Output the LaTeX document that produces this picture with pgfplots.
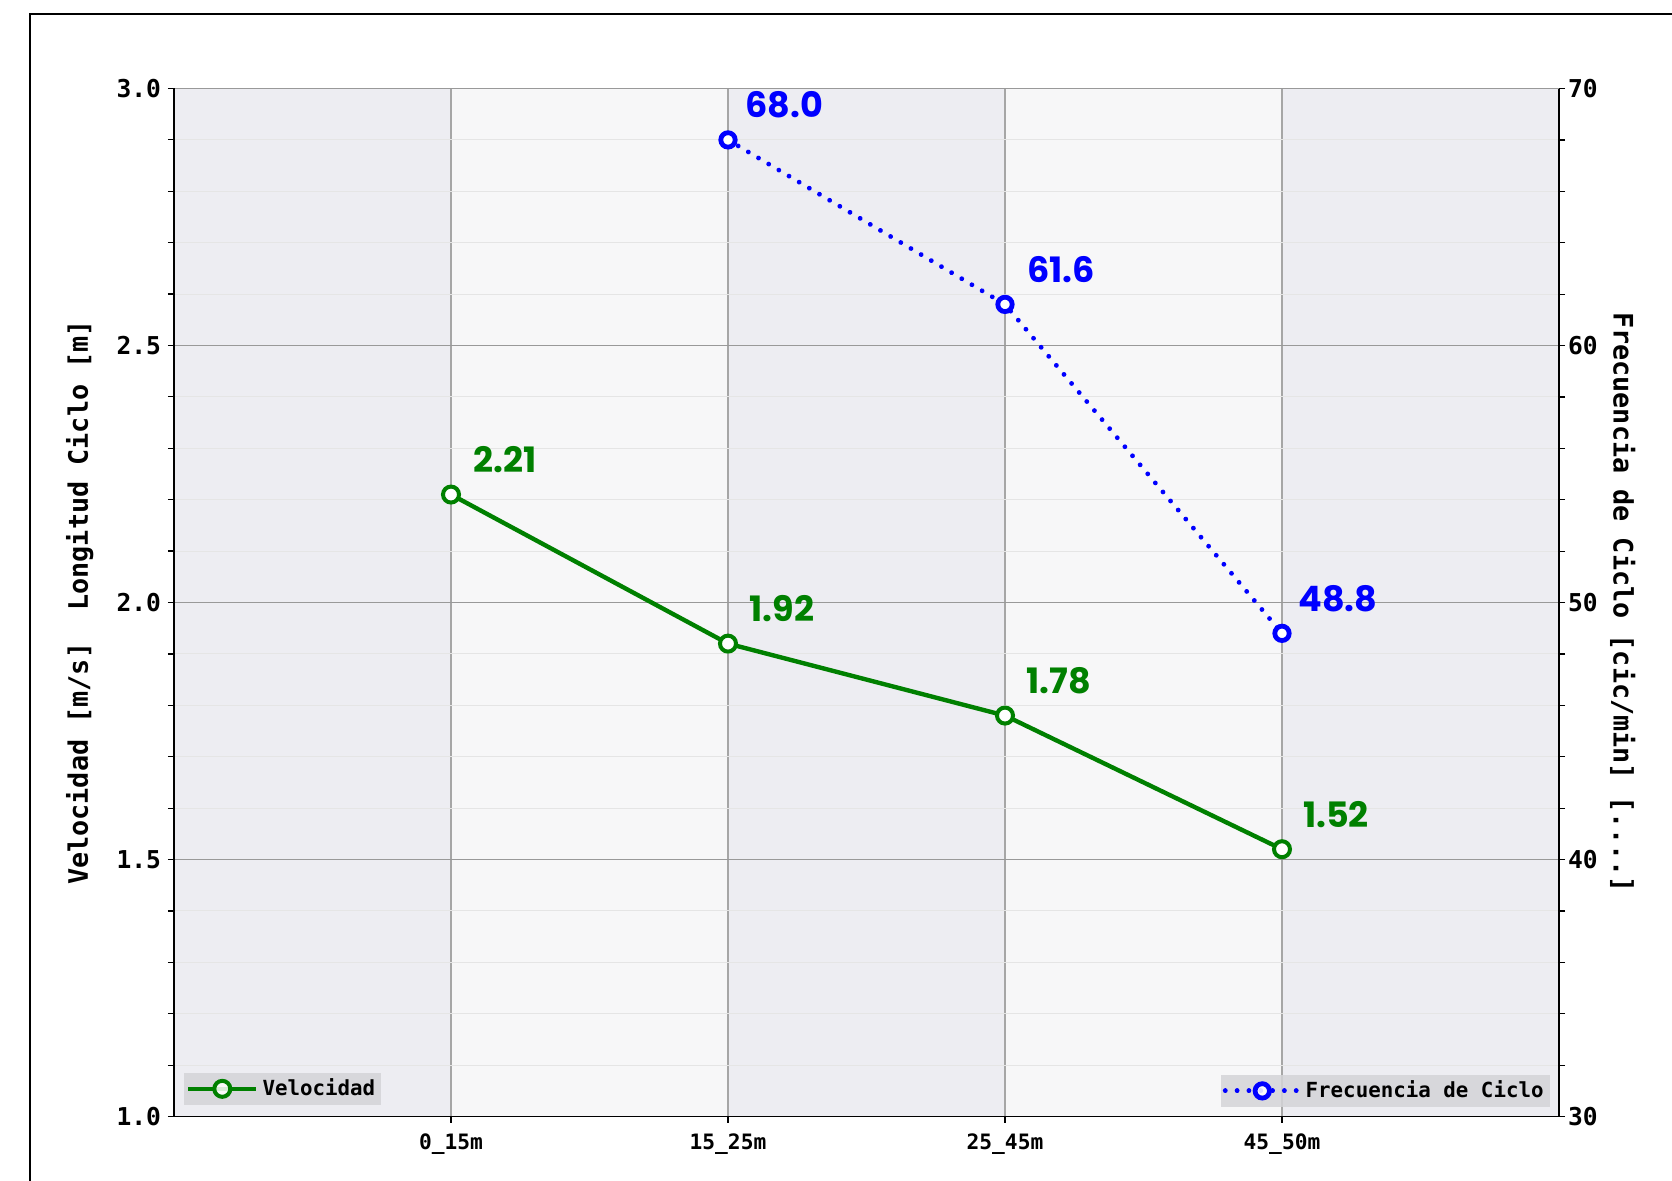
\documentclass[border=0pt]{standalone}
\usepackage{pgfplots}
\pgfplotsset{compat=1.18}
\usepackage{fontspec}
\setmainfont{DejaVu Sans}
\newfontfamily\mono{DejaVu Sans Mono}
\newfontfamily\lab{Poppins}
\definecolor{bandgray}{RGB}{237,237,242}
\definecolor{bandwhite}{RGB}{247,247,248}
\definecolor{mgreen}{RGB}{0,128,0}
\definecolor{mblue}{RGB}{0,0,255}
\definecolor{leggray}{RGB}{212,212,216}

\pgfplotsset{
  common/.style={
    scale only axis, width=692.5pt, height=514pt,
    at={(87pt,31.75pt)}, anchor=south west,
    xmin=-1, xmax=4,
    tick align=outside, major tick length=3pt, minor tick length=3pt,
    tick style={black, line width=0.6pt},
    axis line style={black, line width=0.9pt, -},
    /pgf/number format/assume math mode=true,
    legend cell align=left,
  },
}

\begin{document}
\begin{tikzpicture}
\path[use as bounding box] (0,0) rectangle (836pt,590pt);
\draw[line width=1.3pt] (15pt,-2pt) -- (15pt,583pt) -- (840pt,583pt);

% background bands
\begin{axis}[common, ymin=1, ymax=3, axis lines=none, ticks=none,
  axis background/.style={fill=bandgray}]
\addplot[fill=bandwhite, draw=none, forget plot] coordinates {(0,1) (1,1) (1,3) (0,3)} -- cycle;
\addplot[fill=bandwhite, draw=none, forget plot] coordinates {(2,1) (3,1) (3,3) (2,3)} -- cycle;
\end{axis}

\begin{axis}[common,
  ymin=1, ymax=3,
  xtick={0,1,2,3}, xticklabels={0\_15m,15\_25m,25\_45m,45\_50m},
  ytick={1,1.5,2,2.5,3}, yticklabels={1.0,1.5,2.0,2.5,3.0},
  minor y tick num=4,
  axis x line*=bottom, axis y line*=left,
  xmajorgrids, ymajorgrids, yminorgrids,
  major grid style={black!40, line width=0.6pt},
  x grid style={black!35, line width=0.6pt},
  minor grid style={black!10, line width=0.5pt},
  xticklabel style={font=\mono\bfseries\fontsize{10.6}{12}\selectfont, yshift=-2pt},
  yticklabel style={font=\mono\bfseries\fontsize{12.3}{14}\selectfont},
  ylabel={Velocidad [m/s]~~Longitud Ciclo [m]},
  every axis y label/.style={at={(axis description cs:-0.068,0.5)}, rotate=90, anchor=center,
    font=\mono\bfseries\fontsize{13.4}{15}\selectfont},
  legend style={at={(axis description cs:0.007,0.011)}, anchor=south west,
    fill=leggray, fill opacity=0.85, text opacity=1, draw=none,
    font=\mono\bfseries\fontsize{10.4}{12}\selectfont, inner sep=1pt},
  legend image code/.code={\draw[mark repeat=2,mark phase=2,#1] plot coordinates {(0pt,0pt) (17pt,0pt) (34pt,0pt)};},
]
\addplot[mgreen, line width=2.2pt, mark=*, mark size=4pt,
  mark options={solid, fill=white, draw=mgreen, line width=2pt},
  point meta=y,
  nodes near coords={\pgfmathprintnumber[fixed,fixed zerofill,precision=2,assume math mode=true]{\pgfplotspointmeta}},
  nodes near coords style={font=\lab\bfseries\fontsize{17.5}{19}\selectfont, text=mgreen, anchor=center, xshift=27pt, yshift=17.5pt}]
  coordinates {(0,2.21) (1,1.92) (2,1.78) (3,1.52)};
\addlegendentry{Velocidad}
\end{axis}

\begin{axis}[common,
  ymin=30, ymax=70,
  ytick={30,40,50,60,70}, minor y tick num=4,
  axis x line=none, axis y line*=right,
  yticklabel style={font=\mono\bfseries\fontsize{12.3}{14}\selectfont, xshift=-2pt},
  ylabel={Frecuencia de Ciclo [cic/min] [....]},
  every axis y label/.style={at={(axis description cs:1.046,0.5)}, rotate=-90, anchor=center,
    font=\mono\bfseries\fontsize{13.4}{15}\selectfont},
  legend style={at={(axis description cs:0.9935,0.009)}, anchor=south east,
    fill=leggray, fill opacity=0.85, text opacity=1, draw=none,
    font=\mono\bfseries\fontsize{10.4}{12}\selectfont, inner sep=1pt},
  legend image code/.code={\draw[mark repeat=2,mark phase=2,#1] plot coordinates {(0pt,0pt) (18.5pt,0pt) (37pt,0pt)};},
]
\addplot[mblue, line width=2.4pt, dash pattern=on 0.01pt off 5.9pt, line cap=round,
  mark=*, mark size=3.6pt,
  mark options={solid, fill=white, draw=mblue, line width=2.4pt},
  point meta=y,
  nodes near coords={\pgfmathprintnumber[fixed,fixed zerofill,precision=1,assume math mode=true]{\pgfplotspointmeta}},
  nodes near coords style={font=\lab\bfseries\fontsize{17.5}{19}\selectfont, text=mblue, anchor=center, xshift=28pt, yshift=17.5pt}]
  coordinates {(1,68.0) (2,61.6) (3,48.8)};
\addlegendentry{Frecuencia de Ciclo}
\end{axis}
\end{tikzpicture}
\end{document}
